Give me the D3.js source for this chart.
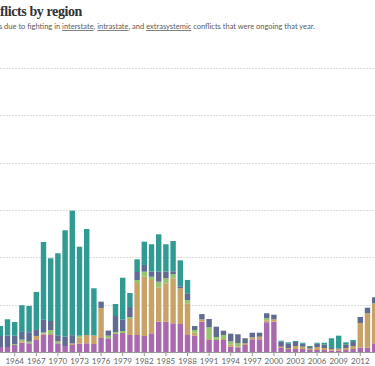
<!DOCTYPE html>
<html>
<head>
<meta charset="utf-8">
<script src="https://cdn.jsdelivr.net/npm/d3@7"></script>
<style>
  body { margin: 0; background: #fff; }
  svg { display: block; }
  .term { text-decoration: underline dotted; }
</style>
</head>
<body>
<script>
const w = 375;
const h = 366;

// deaths, thousands
const years = d3.range(1962, 2015);
const africa = [10.6, 10.6, 14.8, 19.7, 18.4, 25.4, 35.9, 35.9, 18.4, 12.7, 14.8, 17.5, 18.4, 16.9, 29.6, 28.9, 38.0, 40.1, 35.9, 35.9,
  33.8, 39.5, 64.0, 64.0, 60.6, 59.2, 35.9, 34.4, 64.0, 25.4, 25.4, 25.4, 11.2, 9.9, 14.8, 26.8, 26.8, 62.8, 64.0, 8.5,
  6.3, 6.3, 6.3, 4.2, 4.2, 4.2, 3.2, 3.2, 4.2, 6.3, 9.1, 9.1, 18.4];
const middleEast = [0, 0, 0, 3.2, 0, 8.5, 3.2, 2.1, 0, 0, 3.2, 12.7, 17.5, 18.0, 63.4, 0, 0, 0, 33.8, 109.9,
  125.3, 112.6, 72.7, 81.1, 95.1, 75.4, 67.0, 6.3, 4.9, 2.1, 0, 2.1, 4.2, 2.1, 3.6, 4.2, 5.5, 4.2, 4.9, 2.7,
  2.1, 6.3, 4.9, 3.2, 6.3, 4.2, 3.2, 3.2, 4.2, 6.3, 52.2, 72.7, 84.5];
const europe = [0, 0, 2.1, 3.2, 3.6, 0, 2.1, 8.5, 4.2, 0, 0, 4.2, 0, 0, 0, 5.7, 4.2, 4.2, 4.2, 6.3,
  10.6, 7.0, 11.8, 10.6, 8.5, 0, 7.0, 5.7, 0, 24.7, 6.3, 8.5, 7.0, 7.0, 0, 0, 0, 4.2, 0, 0,
  0, 0, 0, 0, 0, 0, 0, 0, 0, 0, 0, 0, 0];
const americas = [23.2, 24.3, 17.5, 16.3, 19.7, 12.7, 26.8, 19.0, 12.7, 19.7, 17.5, 0, 0, 0, 13.3, 10.6, 33.8, 24.7, 21.1, 16.9,
  14.2, 10.6, 21.1, 14.2, 6.3, 4.2, 14.2, 8.5, 11.2, 17.5, 21.8, 9.1, 16.3, 18.4, 10.6, 9.7, 8.5, 10.6, 9.9, 10.6,
  9.9, 8.5, 6.3, 3.2, 7.0, 7.0, 2.1, 1.1, 7.8, 8.5, 12.7, 11.8, 12.7];
const asiaOceania = [21.1, 34.2, 28.9, 56.4, 55.6, 80.3, 164.4, 132.5, 173.3, 224.8, 263.1, 188.0, 224.0, 99.7, 0, 0, 25.4, 87.9, 29.6, 26.8,
  49.2, 57.9, 79.0, 57.7, 64.0, 54.9, 28.1, 0, 0, 0, 0, 0, 0, 0, 0, 0, 0, 0, 0, 2.1,
  2.1, 2.1, 2.1, 2.1, 2.1, 4.2, 20.5, 27.0, 4.2, 4.2, 0, 0, 0];
const yTicks = [0, 100, 200, 300, 400, 500, 600];
const xTickYears = d3.range(1964, 2016, 3);

const keys = ["Africa", "Middle East", "Europe", "Americas", "Asia and Oceania"];
const colours = ["#a86aad", "#c9a268", "#97c46f", "#5f6b91", "#309a93"];

const rows = years.map((y, i) => ({
  year: y,
  "Africa": africa[i],
  "Middle East": middleEast[i],
  "Europe": europe[i],
  "Americas": americas[i],
  "Asia and Oceania": asiaOceania[i]
}));

const svg = d3.select("body").append("svg")
  .attr("width", w)
  .attr("height", h);

// chart area is wider than the window, left side runs off screen
const xScale = d3.scaleBand()
  .domain(years)
  .range([-3.3, 378.3])
  .paddingInner(0.25)
  .paddingOuter(0.125);

const yScale = d3.scaleLinear()
  .domain([0, 600])
  .range([352, 68]);

const colourScale = d3.scaleOrdinal().domain(keys).range(colours);

// title + subtitle (cropped on the left like the reference)
svg.append("text")
  .attr("x", 82)
  .attr("y", 16)
  .attr("text-anchor", "end")
  .style("font-family", "'Liberation Serif', serif")
  .style("font-weight", "bold")
  .style("font-size", "14px")
  .style("letter-spacing", "-0.4px")
  .style("fill", "#333")
  .text("Deaths in state-based conflicts by region");

const sub = svg.append("text")
  .attr("x", 315)
  .attr("y", 29)
  .attr("text-anchor", "end")
  .style("font-family", "Lato, sans-serif")
  .style("font-size", "7.5px")
  .style("fill", "#5b5b5b");
sub.append("tspan").text("Deaths of combatants and civilians due to fighting in ");
sub.append("tspan").attr("class", "term").text("interstate");
sub.append("tspan").text(", ");
sub.append("tspan").attr("class", "term").text("intrastate");
sub.append("tspan").text(", and ");
sub.append("tspan").attr("class", "term").text("extrasystemic");
sub.append("tspan").text(" conflicts that were ongoing that year.");

// gridlines
svg.append("g")
  .selectAll("line")
  .data(yTicks.slice(1))
  .enter()
  .append("line")
  .attr("x1", 0)
  .attr("x2", w)
  .attr("y1", d => Math.round(yScale(d)) + 0.5)
  .attr("y2", d => Math.round(yScale(d)) + 0.5)
  .attr("stroke", "#dcdcdc")
  .attr("stroke-dasharray", "2,1");

// stacked bars
const stacked = d3.stack().keys(keys)(rows);

svg.append("g")
  .selectAll("g")
  .data(stacked)
  .enter()
  .append("g")
  .attr("fill", d => colourScale(d.key))
  .selectAll("rect")
  .data(d => d)
  .enter()
  .append("rect")
  .attr("x", d => xScale(d.data.year))
  .attr("width", xScale.bandwidth())
  .attr("y", d => yScale(d[1]))
  .attr("height", d => Math.max(0, yScale(d[0]) - yScale(d[1])));

// x axis
const xAxis = d3.axisBottom(xScale)
  .tickValues(xTickYears.filter(y => years.includes(y)))
  .tickSize(4)
  .tickPadding(2);

const axisG = svg.append("g")
  .attr("transform", "translate(0," + yScale(0) + ")")
  .call(xAxis);

axisG.select(".domain").attr("stroke", "#999").attr("d", "M0,0.5H" + w);
axisG.selectAll(".tick line").attr("stroke", "#999");
axisG.selectAll(".tick text")
  .style("font-family", "Lato, sans-serif")
  .style("font-size", "8px")
  .style("fill", "#666");
</script>
</body>
</html>
